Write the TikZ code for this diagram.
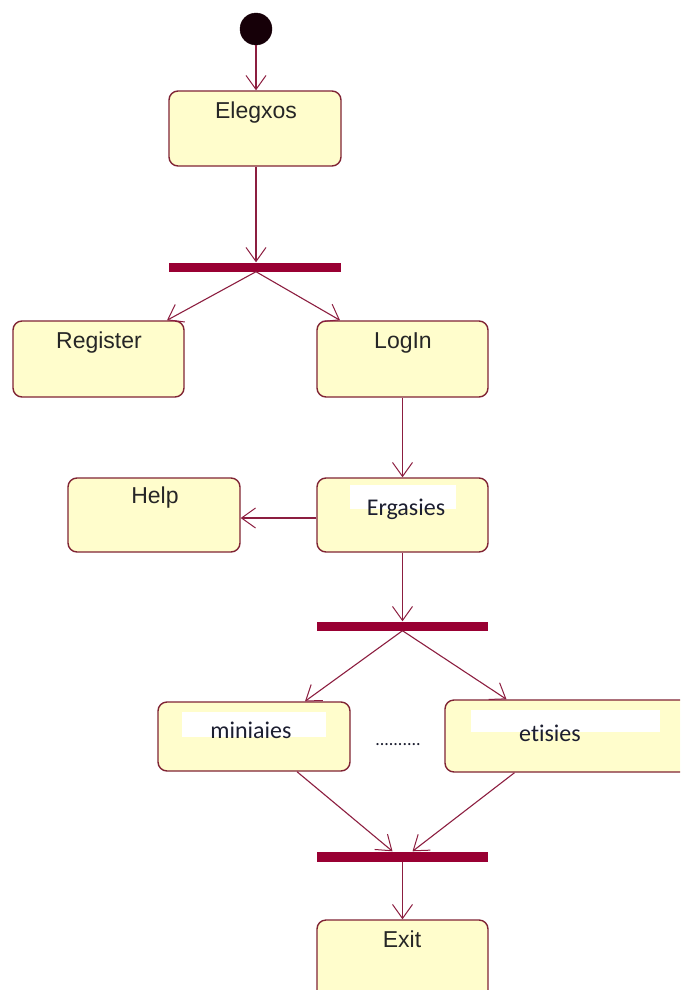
\documentclass[tikz,border=0pt]{standalone}
\usepackage{fontspec}
\setmainfont{Liberation Sans}
\newfontfamily\calfont[Ligatures=NoCommon]{Carlito}
\usetikzlibrary{arrows.meta,calc}
\definecolor{boxfill}{RGB}{255,253,204}
\definecolor{boxline}{RGB}{128,36,52}
\definecolor{barfill}{RGB}{153,0,51}
\definecolor{flowline}{RGB}{140,30,64}
\definecolor{caltext}{RGB}{28,30,48}
\definecolor{startfill}{RGB}{22,0,8}

\begin{document}
\begin{tikzpicture}[x=1pt,y=-1pt,
  state/.style={draw=boxline, fill=boxfill, line width=1.4pt, rounded corners=9pt, inner sep=0pt},
  syncbar/.style={fill=barfill, draw=none, inner sep=0pt, minimum width=172pt, minimum height=9pt},
  flow/.style={draw=flowline, line width=1.1pt, -{Straight Barb[length=14pt,width=20pt,line width=1pt]}},
  arial/.style={font=\fontsize{23}{26}\selectfont, text=black!85, anchor=base, inner sep=0pt},
  cal/.style={font=\calfont\fontsize{24}{28}\selectfont, text=caltext, anchor=base, inner sep=0pt},
  whitebg/.style={fill=white, draw=none, inner sep=0pt}]

\useasboundingbox (0,0) rectangle (680,990);
\clip (0,0) rectangle (680,990);

% initial state
\node[circle, fill=startfill, draw=startfill, minimum size=32pt, inner sep=0pt] (start) at (256,29) {};

% activity states
\node[state, minimum width=172pt, minimum height=75pt] (elegxos)  at (255,128.5) {};
\node[state, minimum width=171pt, minimum height=76pt] (register) at (98.5,359) {};
\node[state, minimum width=171pt, minimum height=76pt] (login)    at (402.5,359) {};
\node[state, minimum width=172pt, minimum height=74pt] (help)     at (154,515) {};
\node[state, minimum width=171pt, minimum height=74pt] (ergasies) at (402.5,515) {};
\node[state, minimum width=192pt, minimum height=69pt] (miniaies) at (254,736.5) {};
\node[state, minimum width=275pt, minimum height=72pt] (etisies)  at (582.5,736) {};
\node[state, minimum width=171pt, minimum height=90pt] (exit)     at (402.5,965) {};

% fork / join bars
\node[syncbar] (bar1) at (255,267) {};
\node[syncbar, minimum width=171pt] (bar2) at (402.5,626) {};
\node[syncbar, minimum width=171pt, minimum height=10pt] (bar3) at (402.5,856.5) {};

% white label panels
\node[whitebg, minimum width=106pt, minimum height=24pt] (ergasiesbg) at (403,497) {};
\node[whitebg, minimum width=144pt, minimum height=25pt] (miniaiesbg) at (254,724.5) {};
\node[whitebg, minimum width=189pt, minimum height=22pt] (etisiesbg)  at (565.5,721) {};

% labels
\node[arial] (elegxosT)  at (256,118) {Elegxos};
\node[arial] (registerT) at (99,348)  {Register};
\node[arial] (loginT)    at (403,348) {LogIn};
\node[arial] (helpT)     at (155,503) {Help};
\node[arial] (exitT)     at (402,947) {Exit};
\node[cal]   (ergasiesT) at (406,515) {Ergasies};
\node[cal]   (miniaiesT) at (251,738) {miniaies};
\node[cal]   (etisiesT)  at (550,741) {etisies};
\node[cal, font=\calfont\fontsize{18}{20}\selectfont] (dotsT) at (398,745) {..........};

% transitions
\draw[flow] (start.south) -- (start.south |- elegxos.north);
\draw[flow] (elegxos.south -| start.south) -- (start.south |- bar1.north);
\draw[flow] (bar1.south -| start.south) -- ($(register.north)+(68.5,0)$);
\draw[flow] (bar1.south -| start.south) -- ($(login.north)+(-62.5,0)$);
\draw[flow] (login.south) -- (ergasies.north);
\draw[flow] ($(ergasies.west)+(0,3)$) -- ($(help.east)+(0,3)$);
\draw[flow] (ergasies.south) -- (bar2.north);
\draw[flow] (bar2.south) -- ($(miniaies.north)+(51,0)$);
\draw[flow] (bar2.south) -- ($(etisies.north)+(-76,0)$);
\draw[flow] ($(miniaies.south)+(43,0)$) -- ($(bar3.north)+(-10,0)$);
\draw[flow] ($(etisies.south)+(-68,0)$) -- ($(bar3.north)+(10,0)$);
\draw[flow] (bar3.south) -- (exit.north);
\end{tikzpicture}
\end{document}
